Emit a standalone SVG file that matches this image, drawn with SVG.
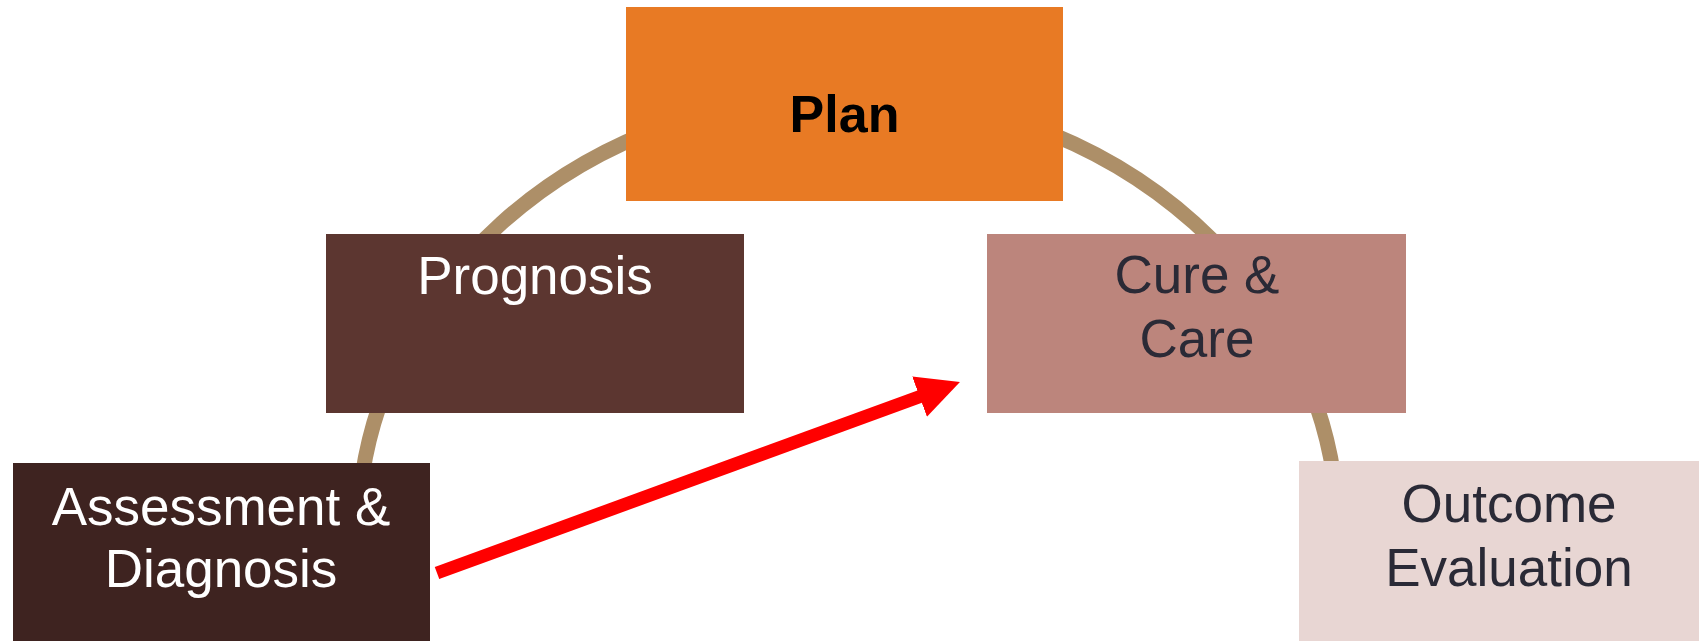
<svg xmlns="http://www.w3.org/2000/svg" width="1699" height="641" viewBox="0 0 1699 641">
<style>
text{font-family:"Liberation Sans",Arial,sans-serif;font-size:53px;text-anchor:middle}
.w{fill:#ffffff}
.d{fill:#2a2a36}
.b{fill:#000000;font-weight:bold;font-size:52px}
.arc{fill:none;stroke:#ad8f68;stroke-width:15}
.arrow{fill:none;stroke:#ff0000;stroke-width:13}
</style>
<defs>
<marker id="ah" markerUnits="userSpaceOnUse" markerWidth="44" markerHeight="44" refX="6" refY="21.5" orient="auto" viewBox="0 0 44 44">
<path d="M0,0 L43,21.5 L0,43 z" fill="#ff0000"/>
</marker>
</defs>
<rect width="1699" height="641" fill="#ffffff"/>
<g id="connectors">
<path class="arc" d="M358,534 A490,440 0 0 1 1338,534"/>
<line class="arrow" x1="437" y1="573" x2="925.2" y2="394.6" marker-end="url(#ah)"/>
</g>
<g id="plan">
<rect x="626" y="7" width="437" height="194" fill="#e87a24"/>
<text class="b" x="844.5" y="132">Plan</text>
</g>
<g id="prognosis">
<rect x="326" y="234" width="418" height="179" fill="#5c3630"/>
<text class="w" x="535" y="294">Prognosis</text>
</g>
<g id="cure">
<rect x="987" y="234" width="419" height="179" fill="#bc857c"/>
<text class="d" x="1197" y="293">Cure &amp;</text>
<text class="d" x="1197" y="357">Care</text>
</g>
<g id="assessment">
<rect x="13" y="463" width="417" height="178" fill="#3e2320"/>
<text class="w" x="221" y="525">Assessment &amp;</text>
<text class="w" x="221" y="587">Diagnosis</text>
</g>
<g id="outcome">
<rect x="1299" y="461" width="420" height="180" fill="#e8d6d3"/>
<text class="d" x="1509" y="522">Outcome</text>
<text class="d" x="1509" y="586">Evaluation</text>
</g>
</svg>
